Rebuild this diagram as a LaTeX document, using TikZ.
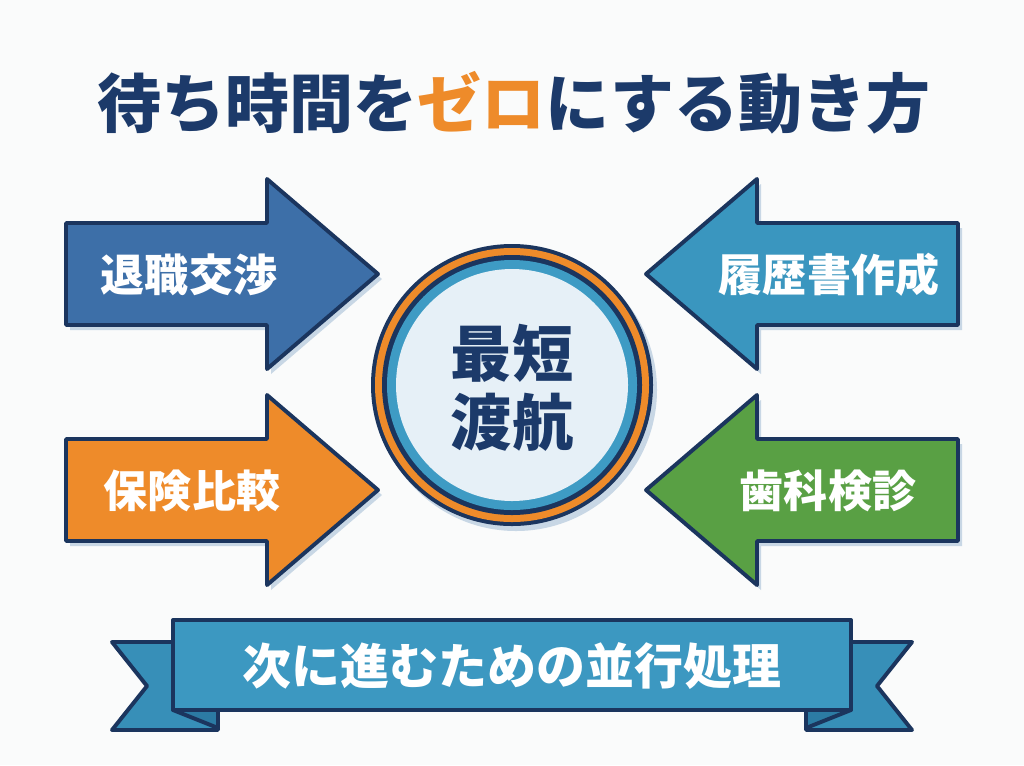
\documentclass[tikz,border=0pt]{standalone}
\usepackage{fontspec}
\setmainfont{Noto Sans CJK JP}
\usetikzlibrary{positioning,calc}
\definecolor{navy}     {HTML}{1B355E}
\definecolor{inkblue}  {HTML}{1C3A6A}
\definecolor{mandarin} {HTML}{EE8B2A}
\definecolor{steel}    {HTML}{3D6FA8}
\definecolor{lagoon}   {HTML}{3A96BF}
\definecolor{leaf}     {HTML}{59A044}
\definecolor{haze}     {HTML}{C8D7E5}
\definecolor{paper}    {HTML}{FAFBFB}
\definecolor{core}     {HTML}{E6F0F7}
\definecolor{ringblue} {HTML}{3E9BC4}
\definecolor{band}     {HTML}{3C98C1}
\definecolor{bandtail} {HTML}{378FB8}
\definecolor{bandfold} {HTML}{2C7BA4}
\tikzset{
  every node/.style={font=\bfseries},
  % --- shapes
  outl/.style  = {draw=navy, line width=2.8pt, line join=round},
  drop/.style  = {fill=haze},
  % --- texts
  ttl/.style   = {text=inkblue, font=\bfseries\fontsize{45.5}{50}\selectfont},
  lbl/.style   = {text=white, font=\bfseries\fontsize{31.3}{36}\selectfont},
  hubtxt/.style= {text=inkblue, align=center, font=\bfseries\fontsize{43.5}{49}\selectfont},
  bandtxt/.style={text=white, font=\bfseries\fontsize{34.8}{40}\selectfont},
}
\begin{document}
\begin{tikzpicture}[x=0.025cm,y=-0.025cm]
  \fill[paper] (0,0) rectangle (1024,765);
  \useasboundingbox (0,0) rectangle (1024,765);

  \node[ttl] (title) at (514,103) {待ち時間を\textcolor{mandarin}{ゼロ}にする動き方};

  % arrows from the left
  \foreach \yc/\col/\txt/\tx [count=\i] in {274/steel/退職交渉/189, 490/mandarin/保険比較/192} {
    \fill[drop, shift={(4,5)}] (66,\yc-51) -- (267,\yc-51) -- (267,\yc-95) -- (378,\yc)
          -- (267,\yc+95) -- (267,\yc+51) -- (66,\yc+51) -- cycle;
    \filldraw[outl, fill=\col] (66,\yc-51) -- (267,\yc-51) -- (267,\yc-95) -- (378,\yc)
          -- (267,\yc+95) -- (267,\yc+51) -- (66,\yc+51) -- cycle;
    \node[lbl] (left\i) at (\tx,\yc+1) {\txt};
  }
  % arrows from the right
  \foreach \yc/\col/\txt/\tx [count=\i] in {274/lagoon/履歴書作成/829, 490/leaf/歯科検診/828} {
    \fill[drop, shift={(4,5)}] (958,\yc-51) -- (757,\yc-51) -- (757,\yc-95) -- (646,\yc)
          -- (757,\yc+95) -- (757,\yc+51) -- (958,\yc+51) -- cycle;
    \filldraw[outl, fill=\col] (958,\yc-51) -- (757,\yc-51) -- (757,\yc-95) -- (646,\yc)
          -- (757,\yc+95) -- (757,\yc+51) -- (958,\yc+51) -- cycle;
    \node[lbl] (right\i) at (\tx,\yc+1) {\txt};
  }

  % centre badge
  \fill[drop] (516,390) circle (141);
  \fill[navy] (512,385) circle (141);
  \fill[mandarin] (512,385) circle (137);
  \fill[navy] (512,385) circle (130);
  \fill[ringblue] (512,385) circle (125);
  \fill[core] (512,385) circle (116);
  \node[hubtxt] (hub) at (512,388) {最短\\渡航};

  % ribbon
  \filldraw[outl, fill=bandtail] (112,642) -- (218,642) -- (218,730) -- (112,730) -- (147,686) -- cycle;
  \filldraw[outl, fill=bandtail] (912,642) -- (806,642) -- (806,730) -- (912,730) -- (877,686) -- cycle;
  \filldraw[outl, fill=bandfold] (173,710) -- (218,728) -- (218,710) -- cycle;
  \filldraw[outl, fill=bandfold] (851,710) -- (806,728) -- (806,710) -- cycle;
  \filldraw[outl, fill=band] (173,620) rectangle (851,710);
  \node[bandtxt] (motto) at (512,666) {次に進むための並行処理};
\end{tikzpicture}
\end{document}
